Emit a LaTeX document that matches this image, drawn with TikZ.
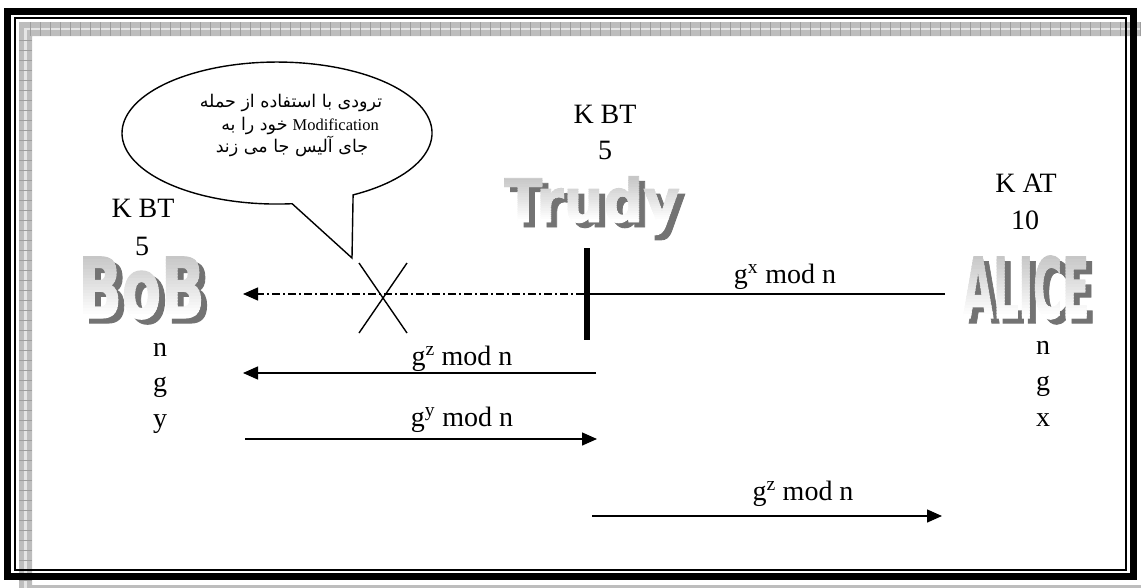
\documentclass[tikz,border=0pt]{standalone}
\usepackage{fontspec}
\usepackage{graphicx}
\setmainfont{Liberation Serif}
\newfontfamily\arabicfont[Script=Arabic]{DejaVu Sans}
\newfontfamily\artfont[FakeBold=1.5]{DejaVu Sans}
\TeXXeTstate=1
\usetikzlibrary{arrows.meta}

\colorlet{artshadow}{black!55}
\colorlet{bandgray}{black!26}

\tikzset{
  lbl/.style={font=\fontsize{28}{30}\selectfont, inner sep=0pt, anchor=base},
  bubtext/.style={font=\fontsize{16.5}{18}\selectfont, inner sep=0pt, anchor=base},
  artglyph/.style={inner sep=0pt, anchor=base, font=\artfont\bfseries},
  msg/.style={line width=1.4pt, -{Triangle[length=15pt,width=13pt]}},
  fakemsg/.style={line width=1.4pt, dash pattern=on 8pt off 3pt on 2pt off 3pt,
                  -{Triangle[length=15pt,width=13pt]}},
  cutline/.style={line width=1.4pt},
  plainmsg/.style={line width=1.4pt},
}

% title: grey drop shadow, then a face fading from grey (cap line) to white (baseline)
% #1 x, #2 baseline y, #3 font size, #4 horizontal scale, #5 text, #6 name
\newcommand\artword[6]{%
  \node[artglyph, text=artshadow] (#6) at (#1+6,#2+5)
    {\fontsize{#3}{#3}\selectfont\scalebox{#4}[1]{#5}};
  \pgfmathsetmacro\arttop{#2-0.729*#3}
  \pgfmathsetmacro\artstep{0.729*#3/20}
  \foreach \k in {0,...,19}{
    \pgfmathsetmacro\ya{\k==0 ? \arttop-30 : \arttop+\k*\artstep}
    \pgfmathsetmacro\yb{\k==19 ? #2+40 : \arttop+(\k+1)*\artstep+0.3}
    \pgfmathtruncatemacro\pc{44-44*\k/19}
    \begin{scope}
      \clip (#1-300,\ya) rectangle (#1+300,\yb);
      \node[artglyph, text=gray!\pc] at (#1,#2)
        {\fontsize{#3}{#3}\selectfont\scalebox{#4}[1]{#5}};
    \end{scope}
  }
}

\begin{document}
\begin{tikzpicture}[x=1pt,y=-1pt]
  \useasboundingbox (0,0) rectangle (1141,587);
  \clip (0,0) rectangle (1141,587);

  % page border band
  \fill[bandgray, even odd rule] (19,22) rectangle (1170,610) (32,36) rectangle (1170,585);
  \draw[black!10, line width=2.5pt] (25.5,29) rectangle (1180,600);
  \foreach \t in {30,40,...,1140} \draw[black!38, line width=0.4pt] (\t,22) -- (\t,36);
  \foreach \t in {40,50,...,590} \draw[black!38, line width=0.4pt] (19,\t) -- (32,\t);

  % black frame
  \draw[line width=7pt] (7.5,11.5) rectangle (1133.5,576.5);
  \draw[line width=2pt] (14.5,17.5) rectangle (1126,569.5);

  % speech bubble
  \draw[line width=1.4pt, fill=white] (353.1,194.9)
    arc[start angle=60.6, end angle=-275.6, x radius=155, y radius=71]
    -- (352,258) -- cycle;
  \node[bubtext] (bt1) at (291,107) {\arabicfont\fontsize{17.5}{19}\selectfont\beginR ترودی با استفاده از حمله\endR};
  \node[bubtext] (bt2) at (300,130) {\beginR\beginL Modification\endL\hspace{5pt}{\arabicfont\fontsize{17.5}{19}\selectfont خود را به}\endR};
  \node[bubtext] (bt3) at (292,152) {\arabicfont\fontsize{17.5}{19}\selectfont\beginR جای آلیس جا می زند\endR};

  % titles
  \artword{141.5}{318}{84}{0.68}{BoB}{bob}
  \artword{592}{222}{60}{0.93}{Trudy}{trudy}
  \artword{1026}{318}{84}{0.47}{ALICE}{alice}

  % keys and parameters
  \node[lbl] (bobkey) at (143,217) {K BT};
  \node[lbl] (bobkeyval) at (142,255) {5};
  \node[lbl] (bobn) at (160,356) {n};
  \node[lbl] (bobg) at (160,391) {g};
  \node[lbl] (boby) at (160,427) {y};

  \node[lbl] (trudykey) at (605,123) {K BT};
  \node[lbl] (trudykeyval) at (605,159) {5};

  \node[lbl] (alicekey) at (1026,192) {K AT};
  \node[lbl] (alicekeyval) at (1025,229) {10};
  \node[lbl] (alicen) at (1043,354) {n};
  \node[lbl] (aliceg) at (1043,390) {g};
  \node[lbl] (alicex) at (1043,426) {x};

  % Trudy's interception bar
  \node[fill=black, minimum width=6pt, minimum height=92pt, inner sep=0pt] (bar) at (587,294) {};

  % message endpoints
  \coordinate (alicesend) at (945,294);
  \coordinate (bobrecv1) at (243,294);
  \coordinate (trudysend2) at (596,373);
  \coordinate (bobrecv2) at (243,373);
  \coordinate (bobsend3) at (245,439);
  \coordinate (trudyrecv3) at (597,439);
  \coordinate (trudysend4) at (592,516);
  \coordinate (alicerecv4) at (942,516);
  \coordinate (cutA) at (359,263);
  \coordinate (cutB) at (407,333);
  \coordinate (cutC) at (407,263);
  \coordinate (cutD) at (359,333);

  % messages
  \draw[plainmsg] (alicesend) -- (bar.east);
  \draw[fakemsg] (bar.west) -- (bobrecv1);
  \draw[cutline] (cutA) -- (cutB);
  \draw[cutline] (cutC) -- (cutD);
  \draw[msg] (trudysend2) -- (bobrecv2);
  \draw[msg] (bobsend3) -- (trudyrecv3);
  \draw[msg] (trudysend4) -- (alicerecv4);

  \node[lbl] (lx) at (785,283) {g\textsuperscript{x} mod n};
  \node[lbl] (lz1) at (462,365) {g\textsuperscript{z} mod n};
  \node[lbl] (ly) at (462,426) {g\textsuperscript{y} mod n};
  \node[lbl] (lz2) at (803,500) {g\textsuperscript{z} mod n};
\end{tikzpicture}
\end{document}
